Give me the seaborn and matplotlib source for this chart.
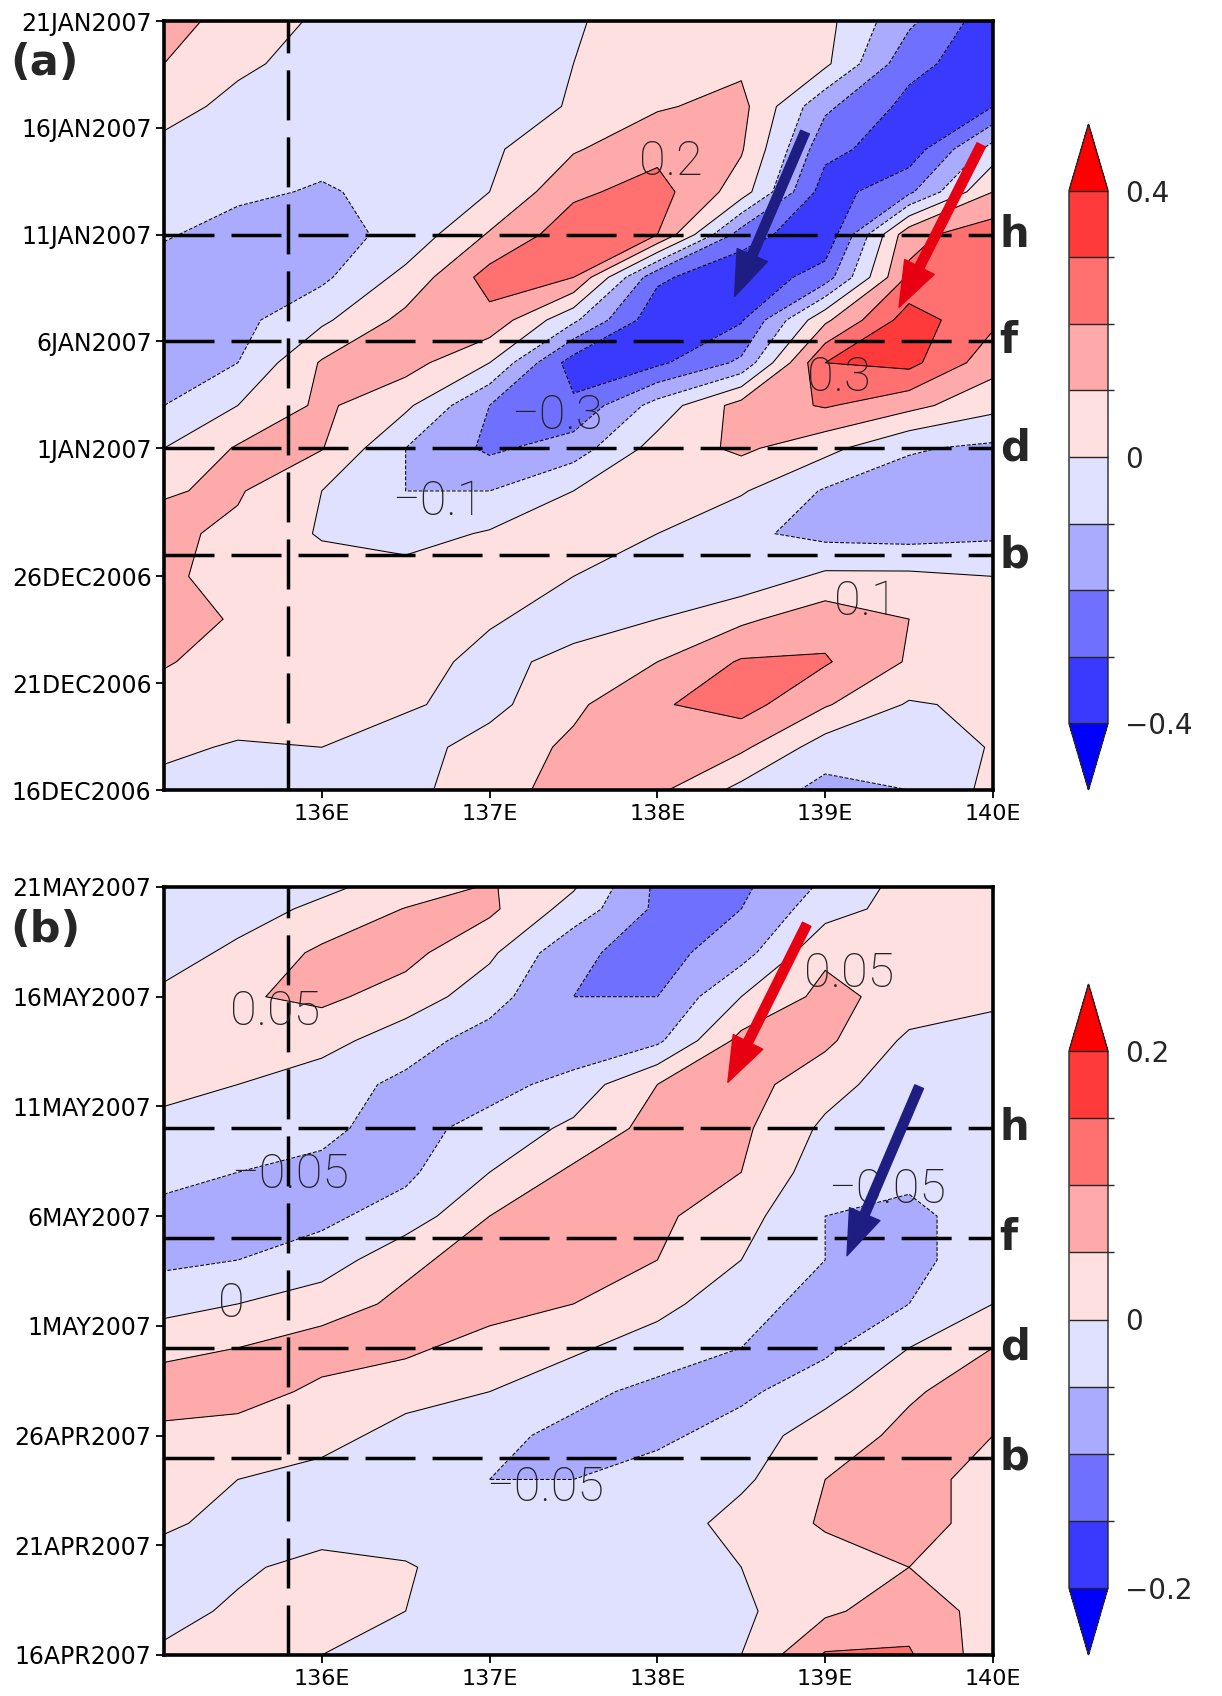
import numpy as np
import matplotlib
matplotlib.use('Agg')
import matplotlib.pyplot as plt
from matplotlib.colors import ListedColormap, BoundaryNorm
import seaborn as sns

sns.set_theme(style='ticks')
plt.rcParams['font.family'] = ['DejaVu Sans']

# longitude grid (deg E)
lon = [135.06, 135.5, 136.0, 136.5, 137.0, 137.5, 138.0, 138.5, 139.0, 139.5, 140.0]

# panel (a): days after 16DEC2006
day_a = [0, 2, 4, 6, 8, 10, 12, 14, 16, 18, 20, 22, 24, 26, 28, 30, 32, 34, 36]
field_a = [
    [-0.03, -0.05, -0.06, -0.03, 0.06, 0.14, 0.12, -0.03, -0.13, -0.10, 0.03],
    [0.02, -0.01, 0.00, -0.04, 0.04, 0.12, 0.20, 0.12, -0.05, -0.09, 0.01],
    [0.05, 0.05, 0.04, 0.01, -0.03, 0.08, 0.19, 0.24, 0.11, -0.01, 0.02],
    [0.11, 0.05, 0.05, 0.04, -0.03, 0.03, 0.10, 0.21, 0.21, 0.09, 0.05],
    [0.14, 0.09, 0.06, 0.04, 0.01, -0.04, 0.00, 0.08, 0.16, 0.10, 0.04],
    [0.12, 0.06, 0.05, 0.04, 0.03, 0.00, -0.04, -0.07, 0.02, 0.02, 0.00],
    [0.12, 0.08, -0.01, -0.04, 0.01, 0.04, 0.00, -0.08, -0.13, -0.14, -0.12],
    [0.095, 0.11, 0.00, -0.10, -0.10, 0.00, 0.04, 0.01, -0.11, -0.15, -0.13],
    [0.00, 0.11, 0.105, -0.10, -0.22, -0.15, 0.04, 0.12, 0.03, -0.09, -0.12],
    [-0.10, 0.00, 0.12, 0.02, -0.20, -0.28, -0.06, 0.14, 0.21, 0.13, 0.03],
    [-0.13, -0.10, 0.11, 0.14, 0.00, -0.35, -0.32, -0.18, 0.30, 0.33, 0.14],
    [-0.15, -0.13, -0.02, 0.13, 0.17, -0.08, -0.37, -0.31, 0.08, 0.35, 0.22],
    [-0.15, -0.15, -0.12, 0.03, 0.24, 0.20, -0.28, -0.38, -0.25, 0.22, 0.26],
    [-0.09, -0.14, -0.14, -0.07, 0.11, 0.26, 0.20, -0.25, -0.38, 0.17, 0.26],
    [-0.07, -0.08, -0.11, -0.07, 0.00, 0.18, 0.24, 0.05, -0.35, -0.22, 0.10],
    [-0.03, -0.06, -0.07, -0.06, -0.02, 0.09, 0.17, 0.11, -0.27, -0.36, -0.06],
    [0.04, -0.03, -0.05, -0.06, -0.06, 0.01, 0.09, 0.13, -0.18, -0.33, -0.30],
    [0.10, 0.02, -0.04, -0.06, -0.06, 0.00, 0.05, 0.08, 0.02, -0.27, -0.36],
    [0.13, 0.07, -0.02, -0.05, -0.05, -0.01, 0.05, 0.10, 0.03, -0.18, -0.36],
]

# panel (b): days after 16APR2007
day_b = [0, 2, 4, 6, 8, 10, 12, 14, 16, 18, 20, 22, 24, 26, 28, 30, 32, 34, 35]
field_b = [
    [0.01, 0.02, 0.00, -0.03, -0.04, -0.04, -0.03, 0.00, 0.105, 0.105, 0.02],
    [-0.02, 0.01, 0.03, 0.00, -0.04, -0.04, -0.03, -0.01, 0.04, 0.08, 0.03],
    [-0.03, -0.01, 0.02, 0.005, -0.03, -0.03, -0.02, 0.00, 0.03, 0.05, 0.03],
    [0.01, -0.02, -0.03, -0.03, -0.03, -0.03, -0.03, 0.02, 0.055, 0.07, 0.03],
    [0.03, 0.00, -0.02, -0.03, -0.05, -0.05, -0.03, -0.01, 0.05, 0.07, 0.03],
    [0.04, 0.03, 0.02, -0.02, -0.04, -0.06, -0.06, -0.03, 0.03, 0.06, 0.05],
    [0.07, 0.07, 0.04, 0.02, 0.00, -0.04, -0.06, -0.06, -0.02, 0.045, 0.07],
    [0.04, 0.05, 0.07, 0.06, 0.03, 0.01, -0.03, -0.05, -0.06, 0.00, 0.05],
    [-0.02, 0.00, 0.03, 0.06, 0.07, 0.05, 0.02, -0.04, -0.06, -0.05, 0.00],
    [-0.06, -0.05, -0.03, 0.04, 0.07, 0.07, 0.05, 0.00, -0.05, -0.06, -0.03],
    [-0.06, -0.07, -0.06, -0.03, 0.05, 0.07, 0.06, 0.02, -0.05, -0.06, -0.03],
    [-0.04, -0.05, -0.06, -0.06, 0.00, 0.06, 0.08, 0.05, -0.03, -0.04, -0.03],
    [-0.02, -0.03, -0.04, -0.07, -0.03, 0.01, 0.07, 0.06, -0.01, -0.04, -0.03],
    [0.02, 0.00, -0.03, -0.06, -0.07, -0.03, 0.05, 0.07, 0.02, -0.03, -0.03],
    [0.03, 0.03, 0.02, -0.03, -0.07, -0.09, -0.06, 0.065, 0.06, -0.01, -0.02],
    [0.01, 0.045, 0.06, 0.03, -0.03, -0.10, -0.10, 0.00, 0.065, 0.03, 0.01],
    [-0.02, 0.01, 0.06, 0.065, 0.01, -0.09, -0.12, -0.07, 0.04, 0.03, 0.02],
    [-0.03, -0.02, 0.01, 0.052, 0.06, -0.02, -0.11, -0.10, -0.02, 0.02, 0.03],
    [-0.03, -0.03, -0.01, 0.02, 0.055, 0.005, -0.11, -0.11, -0.04, 0.02, 0.03],
]

ticks_a = [0, 5, 10, 16, 21, 26, 31, 36]
ticklabels_a = ['16DEC2006', '21DEC2006', '26DEC2006', '1JAN2007', '6JAN2007',
                '11JAN2007', '16JAN2007', '21JAN2007']
ticks_b = [0, 5, 10, 15, 20, 25, 30, 35]
ticklabels_b = ['16APR2007', '21APR2007', '26APR2007', '1MAY2007', '6MAY2007',
                '11MAY2007', '16MAY2007', '21MAY2007']
lon_ticks = [136, 137, 138, 139, 140]
lon_ticklabels = ['136E', '137E', '138E', '139E', '140E']

levels_a = [-0.4, -0.3, -0.2, -0.1, 0.0, 0.1, 0.2, 0.3, 0.4]
levels_b = [-0.2, -0.15, -0.1, -0.05, 0.0, 0.05, 0.1, 0.15, 0.2]

# reference lines
vline_lon = 135.8
hlines_a = [26, 21, 16, 11]
hlines_b = [24, 19, 14, 9]
hline_names = ['h', 'f', 'd', 'b']

# contour labels (text, lon, day)
labels_a = [('0.2', 138.08, 29.4), ('0.3', 139.08, 19.3), ('\u22120.3', 137.40, 17.5),
            ('\u22120.1', 136.69, 13.5), ('0.1', 139.24, 8.8)]
labels_b = [('0.05', 135.72, 29.3), ('\u22120.05', 135.81, 21.9), ('0', 135.46, 16.0),
            ('\u22120.05', 137.33, 7.6), ('0.05', 139.14, 31.05), ('\u22120.05', 139.37, 21.2)]

# arrows (start lon, start day, end lon, end day, colour)
arrows_a = [(138.88, 30.8, 138.46, 23.1, '#1e1e82'), (139.93, 30.2, 139.44, 22.6, '#e60012')]
arrows_b = [(138.89, 33.3, 138.42, 26.1, '#e60012'), (139.56, 25.9, 139.13, 18.2, '#1e1e82')]

fill_colors = ['#3a3aff', '#7070ff', '#aaaaff', '#e0e0ff',
               '#ffe0e0', '#ffaaaa', '#ff7070', '#ff3a3a']
cmap = ListedColormap(sns.color_palette(fill_colors))
cmap.set_under('#0000ff')
cmap.set_over('#ff0000')

W, H = 1222, 1696
fig = plt.figure(figsize=(W / 100, H / 100), dpi=100)


def fx(px):
    return px / W


def fy(py):
    return 1 - py / H


panels = [
    dict(field=field_a, day=day_a, levels=levels_a, ticks=ticks_a, tlabels=ticklabels_a,
         hl=hlines_a, labels=labels_a, arrows=arrows_a, ymax=36, top=21, bottom=790,
         cb_top=124, name='(a)', name_y=63),
    dict(field=field_b, day=day_b, levels=levels_b, ticks=ticks_b, tlabels=ticklabels_b,
         hl=hlines_b, labels=labels_b, arrows=arrows_b, ymax=35, top=887, bottom=1655,
         cb_top=984, name='(b)', name_y=930),
]

for p in panels:
    ax = fig.add_axes([fx(164), fy(p['bottom']), fx(993 - 164), (p['bottom'] - p['top']) / H])
    z = np.array(p['field'])
    norm = BoundaryNorm(p['levels'], cmap.N)
    cf = ax.contourf(lon, p['day'], z, levels=p['levels'], cmap=cmap, norm=norm, extend='both')
    ax.contour(lon, p['day'], z, levels=p['levels'], colors='black', linewidths=0.75,
               negative_linestyles='dashed')

    ax.set_xlim(135.06, 140.0)
    ax.set_ylim(0, p['ymax'])
    ax.set_xticks(lon_ticks)
    ax.set_xticklabels(lon_ticklabels, fontsize=16)
    ax.set_yticks(p['ticks'])
    ax.set_yticklabels(p['tlabels'], fontsize=17)
    ax.tick_params(direction='out', length=6, width=1.3, colors='black', pad=3)
    ax.tick_params(axis='x', pad=4)
    for s in ax.spines.values():
        s.set_linewidth(2.6)
        s.set_color('black')

    ax.axvline(vline_lon, color='black', lw=2.5, dashes=(14.4, 4.9))
    for yv, nm in zip(p['hl'], hline_names):
        ax.axhline(yv, color='black', lw=2.5, dashes=(14.4, 4.9))
        ax.text(1.008, yv, nm, transform=ax.get_yaxis_transform(), fontsize=30,
                fontweight='bold', va='center', ha='left')

    for txt, lx, ly in p['labels']:
        ax.text(lx, ly, txt, fontsize=35, family=['Roboto', 'DejaVu Sans'], fontweight='light',
                color='#222222', ha='center', va='center')

    for x0, y0, x1, y1, c in p['arrows']:
        ax.annotate('', xy=(x1, y1), xytext=(x0, y0),
                    arrowprops=dict(arrowstyle='simple,tail_width=0.27,head_width=0.95,head_length=1.3',
                                    mutation_scale=25, color=c, shrinkA=0, shrinkB=0))

    fig.text(fx(10), fy(p['name_y']), p['name'], fontsize=31, fontweight='bold',
             va='center', ha='left')

    cax = fig.add_axes([fx(1069), fy(p['bottom']), fx(39), (p['bottom'] - p['cb_top']) / H])
    cb = fig.colorbar(cf, cax=cax, extend='both', extendfrac=0.125, drawedges=True)
    lv = p['levels']
    cb.set_ticks([lv[0], 0.0, lv[-1]])
    cb.set_ticklabels(['\u2212%g' % abs(lv[0]), '0', '%g' % lv[-1]])
    cb.ax.tick_params(length=0, labelsize=20, pad=12)
    cb.outline.set_linewidth(1.0)
    cb.dividers.set_linewidth(1.0)

fig.savefig('out.png', dpi=100)
